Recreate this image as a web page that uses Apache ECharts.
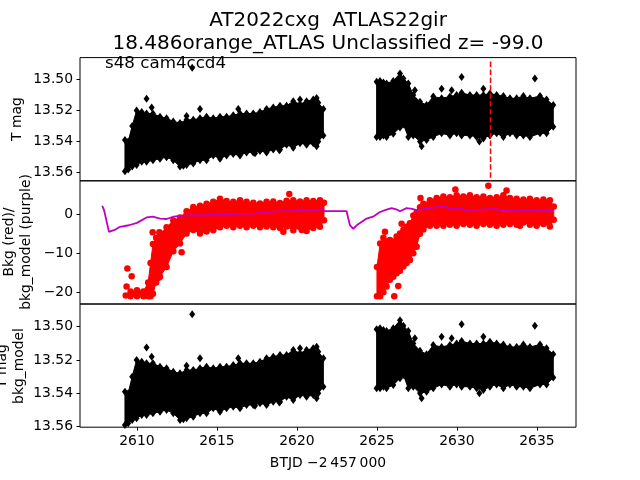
<!DOCTYPE html>
<html><head><meta charset="utf-8">
<script src="https://cdn.jsdelivr.net/npm/echarts@6/dist/echarts.min.js"></script>
<style>html,body{margin:0;padding:0;background:#fff}#c{width:640px;height:480px}</style>
</head><body><div id="c"></div><script>
const FONT = 'DejaVu Sans';
const titleLines = ['AT2022cxg  ATLAS22gir', '18.486orange_ATLAS Unclassified z= -99.0'];
const annotation = 's48 cam4ccd4';
const xTicks = [2610, 2615, 2620, 2625, 2630, 2635];
const magTicks = [13.50, 13.52, 13.54, 13.56];
const bkgTicks = [-20, -10, 0];
const markTime = 2632.1;
const xName = 'BTJD \u22122\u2009457\u2009000';
const yNameTop = 'T mag';
const yNameMid = 'Bkg (red)/\nbkg_model (purple)';
const yNameBot = 'T mag\nbkg_model';

// T mag envelope, first season (time, bright edge, faint edge)
const mag1T   = [2609.25,2609.45,2609.7,2609.98,2610.3,2610.6,2611.0,2611.44,2611.85,2612.27,2612.69,2613.1,2613.52,2613.94,2614.35,2614.77,2615.19,2615.6,2616.02,2616.44,2616.85,2617.27,2617.69,2618.1,2618.52,2618.94,2619.35,2619.77,2620.19,2620.6,2621.02,2621.33,2621.65];
const mag1Top = [13.539,13.540,13.530,13.520,13.521,13.522,13.522,13.524,13.525,13.527,13.528,13.526,13.526,13.525,13.524,13.525,13.524,13.524,13.523,13.522,13.522,13.522,13.521,13.519,13.518,13.517,13.517,13.514,13.516,13.514,13.513,13.515,13.519];
const mag1Bot = [13.559,13.558,13.556,13.555,13.553,13.553,13.552,13.551,13.550,13.552,13.556,13.555,13.554,13.552,13.552,13.549,13.551,13.549,13.548,13.549,13.547,13.547,13.546,13.547,13.545,13.545,13.542,13.544,13.541,13.542,13.541,13.540,13.536];
// second season
const mag2T   = [2624.98,2625.19,2625.4,2625.6,2626.02,2626.44,2626.65,2626.96,2627.27,2627.69,2628.1,2628.52,2629.04,2629.56,2629.98,2630.29,2630.81,2631.23,2631.65,2632.06,2632.48,2632.9,2633.31,2633.73,2634.15,2634.56,2635.19,2635.6,2636.02];
const mag2Top = [13.5016,13.501,13.502,13.5026,13.501,13.4962,13.4994,13.5026,13.5101,13.5144,13.5165,13.511,13.5122,13.511,13.5101,13.5086,13.5101,13.5101,13.5101,13.509,13.5101,13.5107,13.5122,13.5122,13.5107,13.5122,13.5107,13.5129,13.5165];
const mag2Bot = [13.537,13.537,13.536,13.537,13.535,13.531,13.529,13.537,13.536,13.540,13.539,13.537,13.5347,13.536,13.5347,13.536,13.536,13.537,13.538,13.536,13.5347,13.537,13.5347,13.536,13.536,13.537,13.5347,13.5347,13.5305];
// isolated T mag points
const magOutT = [2613.45,2610.6,2610.92,2613.1,2613.94,2616.33,2620.19,2621.23,2611.44,2617.38,2618.9,2621.23,2612.9,2630.29,2634.87,2629.04,2629.67,2627.37,2631.65,2627.79,2631.4];
const magOutV = [13.4925,13.5125,13.518,13.5235,13.519,13.519,13.513,13.512,13.549,13.5475,13.5455,13.543,13.5555,13.4985,13.4995,13.506,13.507,13.507,13.506,13.543,13.540];

// Background flux envelope (red)
const bkg1T   = [2609.6,2610.0,2610.4,2610.7,2610.85,2611.0,2611.2,2611.44,2611.85,2612.27,2612.69,2613.1,2613.52,2613.94,2614.35,2614.77,2615.19,2615.6,2616.02,2616.44,2616.85,2617.27,2617.69,2618.1,2618.52,2618.94,2619.35,2619.77,2620.19,2620.6,2621.02,2621.44,2621.69];
const bkg1Top = [-19.8,-19.5,-19.8,-17.5,-12.5,-7.6,-6.0,-5.0,-3.3,-1.6,-0.8,0.8,1.9,2.2,2.7,3.2,4.0,3.4,3.2,3.6,3.2,3.0,2.8,3.2,3.3,2.9,3.5,3.6,3.3,3.6,3.4,3.6,3.0];
const bkg1Bot = [-21.0,-21.0,-21.0,-21.0,-21.0,-20.4,-17.5,-16.0,-13.5,-9.5,-7.5,-4.9,-4.0,-4.9,-4.4,-4.1,-3.3,-2.9,-3.3,-2.9,-3.3,-2.9,-3.3,-3.1,-3.3,-3.5,-3.1,-4.1,-3.3,-4.3,-3.5,-3.2,-1.5];
const bkg2T   = [2625.0,2625.2,2625.4,2625.6,2625.81,2626.02,2626.23,2626.44,2626.65,2626.85,2627.06,2627.27,2627.48,2627.69,2627.9,2628.31,2628.73,2629.15,2629.56,2629.98,2630.4,2630.81,2631.23,2631.65,2632.06,2632.48,2632.9,2633.31,2633.73,2634.15,2634.56,2634.98,2635.4,2635.81,2636.05];
const bkg2Top = [-13.5,-7.5,-6.0,-7.0,-6.6,-7.0,-5.7,-4.9,-4.0,-3.2,-2.3,-0.3,0.5,1.8,2.7,3.6,4.2,4.6,4.4,4.9,4.6,4.9,4.4,4.6,4.2,4.4,4.9,4.2,4.0,3.8,4.0,3.6,3.8,3.6,2.0];
const bkg2Bot = [-21.0,-21.0,-20.0,-18.5,-16.8,-16.0,-15.1,-14.5,-13.4,-12.5,-11.7,-10.0,-8.3,-5.0,-3.9,-2.9,-2.9,-2.9,-2.7,-2.9,-2.5,-2.7,-2.9,-2.5,-2.7,-2.9,-2.7,-2.5,-2.7,-2.1,-2.7,-2.9,-2.5,-3.1,-1.4];
const bkgOutT = [2609.4,2609.67,2609.35,2609.3,2611.33,2612.79,2610.98,2611.4,2619.52,2619.15,2620.3,2626.08,2626.33,2626.54,2625.5,2627.72,2629.9,2631.96,2633.1,2633.94];
const bkgOutV = [-13.9,-15.9,-18.5,-20.8,-16.3,-9.7,-4.6,-4.6,5.2,-4.5,-4.0,-21.0,-18.4,-2.4,-4.5,4.2,6.4,7.3,6.1,-2.9];

// Background model (purple)
const modelT = [2607.83,2607.95,2608.25,2608.6,2608.94,2609.5,2610.0,2610.6,2611.0,2611.44,2611.85,2612.3,2612.69,2613.5,2614.15,2615.0,2615.6,2616.4,2617.27,2618.1,2618.94,2619.8,2620.6,2621.1,2621.54,2621.75,2623.1,2623.31,2623.52,2623.8,2624.35,2624.8,2625.19,2625.6,2625.92,2626.2,2626.44,2626.85,2627.2,2627.48,2628.2,2629.15,2629.6,2630.1,2630.6,2631.4,2632.27,2633.1,2633.8,2634.56,2635.3,2636.02];
const modelV = [2.2,1.0,-4.5,-4.0,-3.2,-2.8,-2.2,-0.8,-0.6,-1.1,-1.2,-0.6,-0.4,-0.2,-0.3,-0.1,0.0,0.1,0.2,0.5,0.8,0.9,1.1,1.0,1.4,0.8,0.8,-2.8,-3.7,-2.6,-1.1,-0.5,0.6,1.2,1.6,1.3,0.8,1.6,1.4,1.1,1.5,2.1,1.4,1.6,1.1,1.2,1.4,0.8,1.0,1.1,0.9,1.1];

const X_MIN = 2606.44, X_MAX = 2637.44;
const zip = (a, b) => a.map((v, i) => [v, b[i]]);
const magBands = [{t: mag1T, top: mag1Top, bot: mag1Bot}, {t: mag2T, top: mag2Top, bot: mag2Bot}];
const bkgBands = [{t: bkg1T, top: bkg1Top, bot: bkg1Bot}, {t: bkg2T, top: bkg2Top, bot: bkg2Bot}];

function bandSeries(bands, xi, yi, color) {
  return {
    type: 'custom', xAxisIndex: xi, yAxisIndex: yi, silent: true, z: 2,
    data: bands.map(b => [b.t[0], b.top[0]]),
    renderItem: function (params, api) {
      const b = bands[params.dataIndex];
      const pts = [];
      for (let i = 0; i < b.t.length; i++) pts.push(api.coord([b.t[i], b.top[i]]));
      for (let i = b.t.length - 1; i >= 0; i--) pts.push(api.coord([b.t[i], b.bot[i]]));
      return {type: 'polygon', shape: {points: pts}, style: {fill: color, stroke: color, lineWidth: 1}};
    }
  };
}
function edgePoints(bands, outT, outV) {
  let pts = [];
  bands.forEach(b => { pts = pts.concat(zip(b.t, b.top), zip(b.t, b.bot)); });
  return pts.concat(zip(outT, outV));
}
const magPts = edgePoints(magBands, magOutT, magOutV);
const bkgPts = edgePoints(bkgBands, bkgOutT, bkgOutV);

const tickFmt = v => String(v).replace('-', '\u2212');
const magFmt = v => Number(v).toFixed(2);
const plainFmt = v => String(v);
function yAxis(gi, min, max, inverse, ticks, fmt) {
  return {
    type: 'value', gridIndex: gi, min: min, max: max, inverse: inverse, scale: true,
    axisLine: {show: false}, splitLine: {show: false},
    axisTick: {show: true, length: 3.5, customValues: ticks, lineStyle: {color: '#000', width: 1}},
    axisLabel: {customValues: ticks, formatter: fmt, margin: 7, color: '#000', fontFamily: FONT, fontSize: 13.9}
  };
}
function xAxis(gi, showLabels) {
  return {
    type: 'value', gridIndex: gi, min: X_MIN, max: X_MAX,
    axisLine: {show: false}, splitLine: {show: false},
    axisTick: {show: showLabels, length: 3.5, customValues: xTicks, lineStyle: {color: '#000', width: 1}},
    axisLabel: {show: showLabels, customValues: xTicks, formatter: plainFmt, margin: 7, color: '#000', fontFamily: FONT, fontSize: 13.9}
  };
}
const gridBase = {left: 80, right: 64, height: 123.2, show: true, borderColor: '#000', borderWidth: 1, backgroundColor: 'transparent'};

const chart = echarts.init(document.getElementById('c'), null, {renderer: 'canvas'});
chart.setOption({
  animation: false,
  backgroundColor: '#fff',
  grid: [Object.assign({top: 57.6}, gridBase), Object.assign({top: 180.8}, gridBase), Object.assign({top: 304}, gridBase)],
  xAxis: [xAxis(0, false), xAxis(1, false), xAxis(2, true)],
  yAxis: [
    yAxis(0, 13.486, 13.5652, true, magTicks, magFmt),
    yAxis(1, -23.0, 8.6, false, bkgTicks, tickFmt),
    yAxis(2, 13.4864, 13.5603, true, magTicks, magFmt)
  ],
  series: [
    bandSeries(magBands, 0, 0, '#000'),
    {type: 'scatter', xAxisIndex: 0, yAxisIndex: 0, data: magPts, symbol: 'diamond', symbolSize: [6, 8], itemStyle: {color: '#000', opacity: 1}, silent: true, z: 3},
    bandSeries(bkgBands, 1, 1, '#ff0000'),
    {type: 'scatter', xAxisIndex: 1, yAxisIndex: 1, data: bkgPts, symbol: 'circle', symbolSize: 6.5, itemStyle: {color: '#ff0000', opacity: 1}, silent: true, z: 3},
    {type: 'line', xAxisIndex: 1, yAxisIndex: 1, data: zip(modelT, modelV), showSymbol: false, symbol: 'none', lineStyle: {color: '#bf00bf', width: 1.8}, silent: true, z: 4},
    bandSeries(magBands, 2, 2, '#000'),
    {type: 'scatter', xAxisIndex: 2, yAxisIndex: 2, data: magPts, symbol: 'diamond', symbolSize: [6, 8], itemStyle: {color: '#000', opacity: 1}, silent: true, z: 3},
    {
      type: 'custom', xAxisIndex: 0, yAxisIndex: 0, clip: false, silent: true, z: 10,
      data: [[markTime, 13.5]],
      renderItem: function (params, api) {
        const p = api.coord([markTime, 13.5]);
        const cs = params.coordSys;
        return {type: 'line', shape: {x1: p[0], y1: cs.y + 4, x2: p[0], y2: cs.y + cs.height},
          style: {stroke: '#ff0000', lineWidth: 1.5, lineDash: [5.5, 2.4]}};
      }
    }
  ],
  graphic: [
    {type: 'text', x: 328, y: 21, style: {text: titleLines[0], fontFamily: FONT, fontSize: 20, fill: '#000', align: 'center', verticalAlign: 'middle'}},
    {type: 'text', x: 328, y: 44, style: {text: titleLines[1], fontFamily: FONT, fontSize: 20, fill: '#000', align: 'center', verticalAlign: 'middle'}},
    {type: 'text', x: 105, y: 64, z: 20, style: {text: annotation, fontFamily: FONT, fontSize: 16.7, fill: '#000', align: 'left', verticalAlign: 'middle'}},
    {type: 'text', x: 17, y: 119, rotation: Math.PI / 2, style: {text: yNameTop, fontFamily: FONT, fontSize: 13.9, fill: '#000', align: 'center', verticalAlign: 'middle'}},
    {type: 'text', x: 18, y: 242, rotation: Math.PI / 2, style: {text: yNameMid, fontFamily: FONT, fontSize: 13.9, lineHeight: 16.5, fill: '#000', align: 'center', verticalAlign: 'middle'}},
    {type: 'text', x: 11, y: 366, rotation: Math.PI / 2, style: {text: yNameBot, fontFamily: FONT, fontSize: 13.9, lineHeight: 16.5, fill: '#000', align: 'center', verticalAlign: 'middle'}},
    {type: 'text', x: 328, y: 463, style: {text: xName, fontFamily: FONT, fontSize: 13.9, fill: '#000', align: 'center', verticalAlign: 'middle'}}
  ]
});
</script></body></html>
